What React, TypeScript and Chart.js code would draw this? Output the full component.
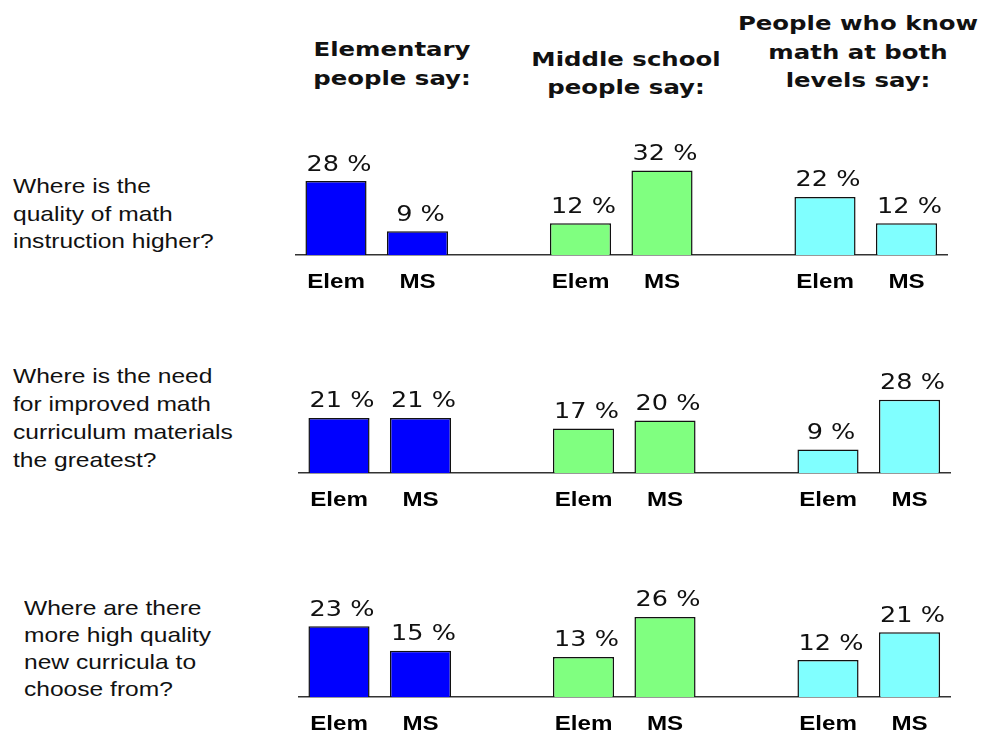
import React, { useEffect, useRef } from 'react';
import { Chart, registerables } from 'chart.js';
Chart.register(...registerables);

// ---- data ----
const groupTitles = [
  ['Elementary', 'people say:'],
  ['Middle school', 'people say:'],
  ['People who know', 'math at both', 'levels say:'],
];
const questions = [
  ['Where is the', 'quality of math', 'instruction higher?'],
  ['Where is the need', 'for improved math', 'curriculum materials', 'the greatest?'],
  ['Where are there', 'more high quality', 'new curricula to', 'choose from?'],
];
const barLabels = ['Elem', 'MS'];
const elemSayElem = [28, 21, 23];
const elemSayMS = [9, 21, 15];
const msSayElem = [12, 17, 13];
const msSaySMS = [32, 20, 26];
const bothSayElem = [22, 9, 12];
const bothSayMS = [12, 28, 21];
const groupColors = ['#0000FF', '#80FF80', '#80FFFF'];

// ---- layout ----
const PLOT_W = 652;
const Y_MAX = 40;
const rowLayout = [
  { top: 120, height: 190, axisY: 255, pxPerPct: 2.64, left: 295.25 },
  { top: 340, height: 180, axisY: 473, pxPerPct: 2.62, left: 298.25 },
  { top: 560, height: 175, axisY: 697, pxPerPct: 3.08, left: 298.25 },
];
const titleLayout = [
  { cx: 392, top: 35, lh: 29 },
  { cx: 626, top: 45, lh: 28 },
  { cx: 858, top: 9, lh: 28.5 },
];
const questionLayout = [
  { left: 13, top: 172, lh: 27.5 },
  { left: 13, top: 362, lh: 28 },
  { left: 24, top: 594, lh: 27 },
];

const labelPlugin = {
  id: 'valueLabels',
  afterDatasetsDraw(chart: any) {
    const ctx = chart.ctx;
    const meta = chart.getDatasetMeta(0);
    const values = chart.data.datasets[0].data;
    const xScale = chart.scales.x;
    const axisY = chart.chartArea.bottom;
    ctx.save();
    ctx.fillStyle = '#111';
    ctx.textAlign = 'center';
    ctx.textBaseline = 'alphabetic';
    meta.data.forEach((bar: any, i: number) => {
      const v = values[i];
      if (v == null) return;
      ctx.save();
      ctx.translate(bar.x + 3, bar.y - 10.5);
      ctx.scale(1.16, 1);
      ctx.font = '22px "DejaVu Sans"';
      ctx.fillText(`${v} %`, 0, 0);
      ctx.restore();
      const px = xScale.getPixelForValue(i);
      ctx.save();
      ctx.translate(px, axisY + 32.5);
      ctx.scale(1.15, 1);
      ctx.font = 'bold 21px "Liberation Sans"';
      ctx.fillStyle = '#000';
      ctx.fillText(chart.data.labels[i], 0, 0);
      ctx.restore();
    });
    ctx.restore();
  },
};

function RowChart({ row }: { row: number }) {
  const ref = useRef<HTMLCanvasElement>(null);
  const L = rowLayout[row];
  useEffect(() => {
    if (!ref.current) return;
    const labels = [barLabels[0], barLabels[1], '', barLabels[0], barLabels[1], '', barLabels[0], barLabels[1]];
    const data = [
      elemSayElem[row], elemSayMS[row], null,
      msSayElem[row], msSaySMS[row], null,
      bothSayElem[row], bothSayMS[row],
    ];
    const colors = [
      groupColors[0], groupColors[0], 'transparent',
      groupColors[1], groupColors[1], 'transparent',
      groupColors[2], groupColors[2],
    ];
    const chartTop = L.axisY - Y_MAX * L.pxPerPct;
    const chart = new Chart(ref.current, {
      type: 'bar',
      data: {
        labels,
        datasets: [
          {
            data,
            backgroundColor: colors,
            borderColor: '#111',
            borderWidth: 1.5,
            barPercentage: 0.75,
            categoryPercentage: 1,
          },
        ],
      },
      options: {
        responsive: false,
        animation: false,
        layout: {
          padding: {
            left: L.left,
            right: 981 - L.left - PLOT_W,
            top: chartTop - L.top,
            bottom: L.top + L.height - L.axisY,
          },
        },
        plugins: { legend: { display: false }, tooltip: { enabled: false } },
        scales: {
          x: {
            grid: { display: false, drawTicks: false },
            ticks: { display: false },
            border: { display: true, color: '#333', width: 1.5 },
          },
          y: { display: false, min: 0, max: Y_MAX },
        },
      },
      plugins: [labelPlugin],
    });
    return () => chart.destroy();
  }, [row]);
  return (
    <canvas
      ref={ref}
      width={981}
      height={L.height}
      style={{ position: 'absolute', left: 0, top: L.top, width: 981, height: L.height, display: 'block' }}
    />
  );
}

export default function App() {
  return (
    <div style={{ position: 'absolute', left: 0, top: 0, width: 981, height: 735, background: '#fff', overflow: 'hidden' }}>
      {groupTitles.map((lines, i) => (
        <div
          key={'t' + i}
          style={{
            position: 'absolute',
            left: titleLayout[i].cx - 150,
            width: 300,
            top: titleLayout[i].top,
            textAlign: 'center',
            fontFamily: '"DejaVu Sans"',
            fontWeight: 'bold',
            fontSize: 20,
            lineHeight: titleLayout[i].lh + 'px',
            color: '#111',
            whiteSpace: 'nowrap',
            transform: 'scaleX(1.22)',
            transformOrigin: 'center',
          }}
        >
          {lines.map((l, j) => (
            <div key={j}>{l}</div>
          ))}
        </div>
      ))}
      {questions.map((lines, i) => (
        <div
          key={'q' + i}
          style={{
            position: 'absolute',
            left: questionLayout[i].left,
            top: questionLayout[i].top,
            fontFamily: '"Liberation Sans", Arial',
            fontSize: 21,
            lineHeight: questionLayout[i].lh + 'px',
            color: '#111',
            whiteSpace: 'nowrap',
            transform: 'scaleX(1.17)',
            transformOrigin: 'left',
          }}
        >
          {lines.map((l, j) => (
            <div key={j}>{l}</div>
          ))}
        </div>
      ))}
      {rowLayout.map((_, r) => (
        <RowChart key={r} row={r} />
      ))}
    </div>
  );
}
